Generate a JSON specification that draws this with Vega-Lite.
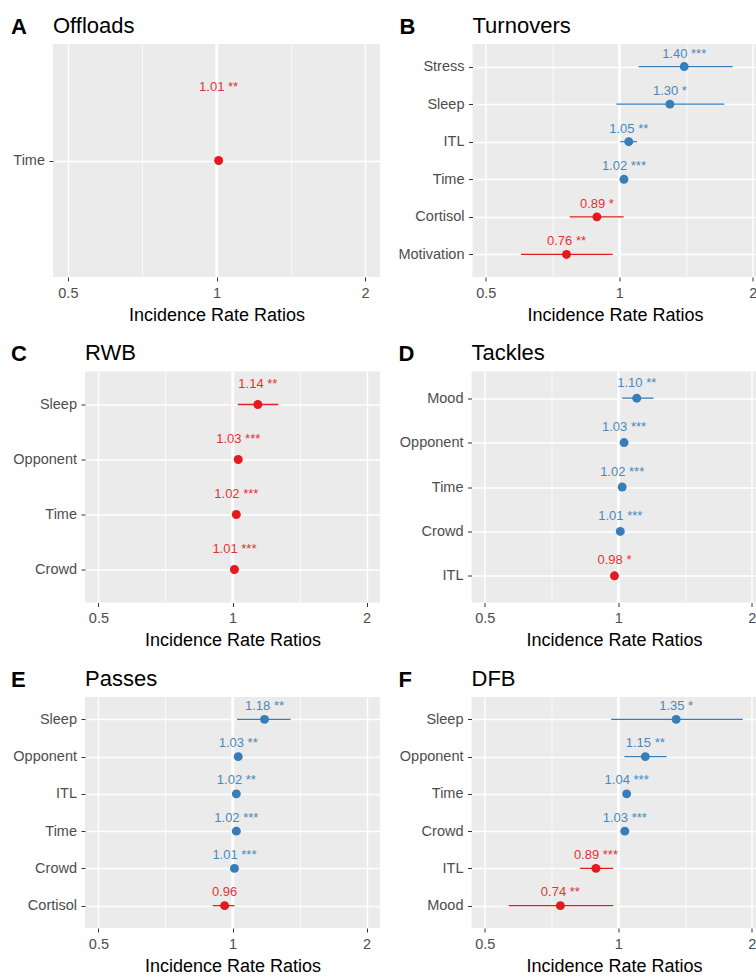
{
  "$schema": "https://vega.github.io/schema/vega-lite/v6.json",
  "background": "white",
  "padding": {"left": 9, "top": 14, "right": 0, "bottom": 0},
  "spacing": 17.5,
  "config": {
    "font": "Liberation Sans",
    "view": {"fill": "#EBEBEB", "stroke": null},
    "axis": {"domain": false, "grid": true, "gridColor": "#FFFFFF", "gridWidth": 1.4, "tickColor": "#333333", "tickSize": 4, "tickWidth": 1, "labelColor": "#4D4D4D", "labelFontSize": 14.5, "labelFont": "Liberation Sans", "titleFont": "Liberation Sans", "titleFontWeight": "normal", "titleColor": "#000000"},
    "axisX": {"labelPadding": 5, "titleFontSize": 18, "labelFlush": false, "labelOverlap": false},
    "axisY": {"labelPadding": 4.5},
    "title": {"anchor": "start", "frame": "group", "fontSize": 22, "fontWeight": "normal", "font": "Liberation Sans", "color": "#000000", "baseline": "alphabetic", "offset": -22.5}
  },
  "datasets": {
    "A": [
      {"term": "Time", "est": 1.01, "lo": 1.004, "hi": 1.016, "label": "1.01 **", "grp": "r"}
    ],
    "B": [
      {"term": "Stress", "est": 1.40, "lo": 1.105, "hi": 1.80, "label": "1.40 ***", "grp": "b"},
      {"term": "Sleep", "est": 1.30, "lo": 0.985, "hi": 1.725, "label": "1.30 *", "grp": "b"},
      {"term": "ITL", "est": 1.05, "lo": 1.005, "hi": 1.096, "label": "1.05 **", "grp": "b"},
      {"term": "Time", "est": 1.024, "lo": 1.014, "hi": 1.034, "label": "1.02 ***", "grp": "b"},
      {"term": "Cortisol", "est": 0.89, "lo": 0.773, "hi": 1.022, "label": "0.89 *", "grp": "r"},
      {"term": "Motivation", "est": 0.76, "lo": 0.60, "hi": 0.966, "label": "0.76 **", "grp": "r"}
    ],
    "C": [
      {"term": "Sleep", "est": 1.14, "lo": 1.028, "hi": 1.267, "label": "1.14 **", "grp": "r"},
      {"term": "Opponent", "est": 1.03, "lo": 1.02, "hi": 1.04, "label": "1.03 ***", "grp": "r"},
      {"term": "Time", "est": 1.02, "lo": 1.014, "hi": 1.026, "label": "1.02 ***", "grp": "r"},
      {"term": "Crowd", "est": 1.01, "lo": 1.005, "hi": 1.015, "label": "1.01 ***", "grp": "r"}
    ],
    "D": [
      {"term": "Mood", "est": 1.10, "lo": 1.02, "hi": 1.20, "label": "1.10 **", "grp": "b"},
      {"term": "Opponent", "est": 1.03, "lo": 1.02, "hi": 1.04, "label": "1.03 ***", "grp": "b"},
      {"term": "Time", "est": 1.02, "lo": 1.014, "hi": 1.026, "label": "1.02 ***", "grp": "b"},
      {"term": "Crowd", "est": 1.01, "lo": 1.005, "hi": 1.015, "label": "1.01 ***", "grp": "b"},
      {"term": "ITL", "est": 0.98, "lo": 0.965, "hi": 0.995, "label": "0.98 *", "grp": "r"}
    ],
    "E": [
      {"term": "Sleep", "est": 1.18, "lo": 1.024, "hi": 1.35, "label": "1.18 **", "grp": "b"},
      {"term": "Opponent", "est": 1.03, "lo": 1.01, "hi": 1.05, "label": "1.03 **", "grp": "b"},
      {"term": "ITL", "est": 1.02, "lo": 1.006, "hi": 1.034, "label": "1.02 **", "grp": "b"},
      {"term": "Time", "est": 1.02, "lo": 1.012, "hi": 1.028, "label": "1.02 ***", "grp": "b"},
      {"term": "Crowd", "est": 1.01, "lo": 1.005, "hi": 1.015, "label": "1.01 ***", "grp": "b"},
      {"term": "Cortisol", "est": 0.96, "lo": 0.903, "hi": 1.01, "label": "0.96", "grp": "r"}
    ],
    "F": [
      {"term": "Sleep", "est": 1.35, "lo": 0.963, "hi": 1.907, "label": "1.35 *", "grp": "b"},
      {"term": "Opponent", "est": 1.15, "lo": 1.032, "hi": 1.285, "label": "1.15 **", "grp": "b"},
      {"term": "Time", "est": 1.044, "lo": 1.034, "hi": 1.054, "label": "1.04 ***", "grp": "b"},
      {"term": "Crowd", "est": 1.034, "lo": 1.024, "hi": 1.044, "label": "1.03 ***", "grp": "b"},
      {"term": "ITL", "est": 0.89, "lo": 0.82, "hi": 0.974, "label": "0.89 ***", "grp": "r"},
      {"term": "Mood", "est": 0.74, "lo": 0.566, "hi": 0.974, "label": "0.74 **", "grp": "r"}
    ],
    "none": []
  },
  "vconcat": [
    {
      "spacing": 0,
      "hconcat": [
        {"width": 1, "height": 1, "view": {"fill": null, "stroke": null}, "data": {"name": "none"}, "mark": {"type": "point", "opacity": 0}},
        {
          "spacing": 17.5,
          "hconcat": [
            {
              "width": 327, "height": 233,
              "data": {"name": "A"},
              "title": {"text": "Offloads"},
              "layer": [
                {"data": {"values": [{"ref": 1}]}, "mark": {"type": "rule", "color": "#FFFFFF", "strokeWidth": 2.4},
                 "encoding": {"x": {"field": "ref", "type": "quantitative", "scale": {"type": "log", "domain": [0.4665, 2.1435], "nice": false, "zero": false},
                   "axis": {"values": [0.5, 0.7071, 1, 1.4142, 2], "labelExpr": "datum.value == 0.5 ? '0.5' : datum.value == 1 ? '1' : datum.value == 2 ? '2' : ''", "title": "Incidence Rate Ratios", "titleY": 43, "titleBaseline": "alphabetic",
                     "gridWidth": {"condition": {"test": "(datum.value > 0.6 && datum.value < 0.9) || (datum.value > 1.2 && datum.value < 1.8)", "value": 0.7}, "value": 1.4},
                     "tickOpacity": {"condition": {"test": "(datum.value > 0.6 && datum.value < 0.9) || (datum.value > 1.2 && datum.value < 1.8)", "value": 0}, "value": 1}}}}},
                {"mark": {"type": "rule", "strokeWidth": 1.3},
                 "encoding": {"y": {"field": "term", "type": "nominal", "sort": ["Time"], "scale": {"type": "point", "padding": 0.6},
                   "axis": {"title": "A", "titleAngle": 0, "titleAlign": "left", "titleBaseline": "alphabetic", "titleX": -42.5, "titleY": -11, "titleFontSize": 22, "titleFontWeight": "bold"}},
                  "x": {"field": "lo", "type": "quantitative", "scale": {"type": "log", "domain": [0.4665, 2.1435], "nice": false, "zero": false}}, "x2": {"field": "hi"},
                  "color": {"field": "grp", "type": "nominal", "scale": {"domain": ["r", "b"], "range": ["#E41A1C", "#377EB8"]}, "legend": null}}},
                {"mark": {"type": "circle", "size": 80, "opacity": 1},
                 "encoding": {"y": {"field": "term", "type": "nominal", "sort": ["Time"], "scale": {"type": "point", "padding": 0.6}},
                  "x": {"field": "est", "type": "quantitative", "scale": {"type": "log", "domain": [0.4665, 2.1435], "nice": false, "zero": false}},
                  "color": {"field": "grp", "type": "nominal", "scale": {"domain": ["r", "b"], "range": ["#E41A1C", "#377EB8"]}, "legend": null}}},
                {"mark": {"type": "text", "dy": -70, "fontSize": 13, "baseline": "alphabetic", "align": "center", "opacity": 0.9},
                 "encoding": {"y": {"field": "term", "type": "nominal", "sort": ["Time"], "scale": {"type": "point", "padding": 0.6}},
                  "x": {"field": "est", "type": "quantitative", "scale": {"type": "log", "domain": [0.4665, 2.1435], "nice": false, "zero": false}},
                  "text": {"field": "label"},
                  "color": {"field": "grp", "type": "nominal", "scale": {"domain": ["r", "b"], "range": ["#E41A1C", "#377EB8"]}, "legend": null}}}
              ]
            },
            {
              "width": 285, "height": 233,
              "data": {"name": "B"},
              "title": {"text": "Turnovers"},
              "layer": [
                {"data": {"values": [{"ref": 1}]}, "mark": {"type": "rule", "color": "#FFFFFF", "strokeWidth": 2.4},
                 "encoding": {"x": {"field": "ref", "type": "quantitative", "scale": {"type": "log", "domain": [0.4665, 2.0485], "nice": false, "zero": false},
                   "axis": {"values": [0.5, 0.7071, 1, 1.4142, 2], "labelExpr": "datum.value == 0.5 ? '0.5' : datum.value == 1 ? '1' : datum.value == 2 ? '2' : ''", "title": "Incidence Rate Ratios", "titleY": 43, "titleBaseline": "alphabetic",
                     "gridWidth": {"condition": {"test": "(datum.value > 0.6 && datum.value < 0.9) || (datum.value > 1.2 && datum.value < 1.8)", "value": 0.7}, "value": 1.4},
                     "tickOpacity": {"condition": {"test": "(datum.value > 0.6 && datum.value < 0.9) || (datum.value > 1.2 && datum.value < 1.8)", "value": 0}, "value": 1}}}}},
                {"mark": {"type": "rule", "strokeWidth": 1.3},
                 "encoding": {"y": {"field": "term", "type": "nominal", "sort": ["Stress", "Sleep", "ITL", "Time", "Cortisol", "Motivation"], "scale": {"type": "point", "padding": 0.6},
                   "axis": {"title": "B", "titleAngle": 0, "titleAlign": "left", "titleBaseline": "alphabetic", "titleX": -73.6, "titleY": -11, "titleFontSize": 22, "titleFontWeight": "bold"}},
                  "x": {"field": "lo", "type": "quantitative", "scale": {"type": "log", "domain": [0.4665, 2.0485], "nice": false, "zero": false}}, "x2": {"field": "hi"},
                  "color": {"field": "grp", "type": "nominal", "scale": {"domain": ["r", "b"], "range": ["#E41A1C", "#377EB8"]}, "legend": null}}},
                {"mark": {"type": "circle", "size": 80, "opacity": 1},
                 "encoding": {"y": {"field": "term", "type": "nominal", "sort": ["Stress", "Sleep", "ITL", "Time", "Cortisol", "Motivation"], "scale": {"type": "point", "padding": 0.6}},
                  "x": {"field": "est", "type": "quantitative", "scale": {"type": "log", "domain": [0.4665, 2.0485], "nice": false, "zero": false}},
                  "color": {"field": "grp", "type": "nominal", "scale": {"domain": ["r", "b"], "range": ["#E41A1C", "#377EB8"]}, "legend": null}}},
                {"mark": {"type": "text", "dy": -9, "fontSize": 13, "baseline": "alphabetic", "align": "center", "opacity": 0.9},
                 "encoding": {"y": {"field": "term", "type": "nominal", "sort": ["Stress", "Sleep", "ITL", "Time", "Cortisol", "Motivation"], "scale": {"type": "point", "padding": 0.6}},
                  "x": {"field": "est", "type": "quantitative", "scale": {"type": "log", "domain": [0.4665, 2.0485], "nice": false, "zero": false}},
                  "text": {"field": "label"},
                  "color": {"field": "grp", "type": "nominal", "scale": {"domain": ["r", "b"], "range": ["#E41A1C", "#377EB8"]}, "legend": null}}}
              ]
            }
          ]
        }
      ]
    },
    {
      "spacing": 0,
      "hconcat": [
        {"width": 1, "height": 1, "view": {"fill": null, "stroke": null}, "data": {"name": "none"}, "mark": {"type": "point", "opacity": 0}},
        {
          "spacing": 17.5,
          "hconcat": [
            {
              "width": 295, "height": 231,
              "data": {"name": "C"},
              "title": {"text": "RWB"},
              "layer": [
                {"data": {"values": [{"ref": 1}]}, "mark": {"type": "rule", "color": "#FFFFFF", "strokeWidth": 2.4},
                 "encoding": {"x": {"field": "ref", "type": "quantitative", "scale": {"type": "log", "domain": [0.4665, 2.1435], "nice": false, "zero": false},
                   "axis": {"values": [0.5, 0.7071, 1, 1.4142, 2], "labelExpr": "datum.value == 0.5 ? '0.5' : datum.value == 1 ? '1' : datum.value == 2 ? '2' : ''", "title": "Incidence Rate Ratios", "titleY": 43, "titleBaseline": "alphabetic",
                     "gridWidth": {"condition": {"test": "(datum.value > 0.6 && datum.value < 0.9) || (datum.value > 1.2 && datum.value < 1.8)", "value": 0.7}, "value": 1.4},
                     "tickOpacity": {"condition": {"test": "(datum.value > 0.6 && datum.value < 0.9) || (datum.value > 1.2 && datum.value < 1.8)", "value": 0}, "value": 1}}}}},
                {"mark": {"type": "rule", "strokeWidth": 1.3},
                 "encoding": {"y": {"field": "term", "type": "nominal", "sort": ["Sleep", "Opponent", "Time", "Crowd"], "scale": {"type": "point", "padding": 0.6},
                   "axis": {"title": "C", "titleAngle": 0, "titleAlign": "left", "titleBaseline": "alphabetic", "titleX": -74.6, "titleY": -11, "titleFontSize": 22, "titleFontWeight": "bold"}},
                  "x": {"field": "lo", "type": "quantitative", "scale": {"type": "log", "domain": [0.4665, 2.1435], "nice": false, "zero": false}}, "x2": {"field": "hi"},
                  "color": {"field": "grp", "type": "nominal", "scale": {"domain": ["r", "b"], "range": ["#E41A1C", "#377EB8"]}, "legend": null}}},
                {"mark": {"type": "circle", "size": 80, "opacity": 1},
                 "encoding": {"y": {"field": "term", "type": "nominal", "sort": ["Sleep", "Opponent", "Time", "Crowd"], "scale": {"type": "point", "padding": 0.6}},
                  "x": {"field": "est", "type": "quantitative", "scale": {"type": "log", "domain": [0.4665, 2.1435], "nice": false, "zero": false}},
                  "color": {"field": "grp", "type": "nominal", "scale": {"domain": ["r", "b"], "range": ["#E41A1C", "#377EB8"]}, "legend": null}}},
                {"mark": {"type": "text", "dy": -17, "fontSize": 13, "baseline": "alphabetic", "align": "center", "opacity": 0.9},
                 "encoding": {"y": {"field": "term", "type": "nominal", "sort": ["Sleep", "Opponent", "Time", "Crowd"], "scale": {"type": "point", "padding": 0.6}},
                  "x": {"field": "est", "type": "quantitative", "scale": {"type": "log", "domain": [0.4665, 2.1435], "nice": false, "zero": false}},
                  "text": {"field": "label"},
                  "color": {"field": "grp", "type": "nominal", "scale": {"domain": ["r", "b"], "range": ["#E41A1C", "#377EB8"]}, "legend": null}}}
              ]
            },
            {
              "width": 285, "height": 231,
              "data": {"name": "D"},
              "title": {"text": "Tackles"},
              "layer": [
                {"data": {"values": [{"ref": 1}]}, "mark": {"type": "rule", "color": "#FFFFFF", "strokeWidth": 2.4},
                 "encoding": {"x": {"field": "ref", "type": "quantitative", "scale": {"type": "log", "domain": [0.4665, 2.0485], "nice": false, "zero": false},
                   "axis": {"values": [0.5, 0.7071, 1, 1.4142, 2], "labelExpr": "datum.value == 0.5 ? '0.5' : datum.value == 1 ? '1' : datum.value == 2 ? '2' : ''", "title": "Incidence Rate Ratios", "titleY": 43, "titleBaseline": "alphabetic",
                     "gridWidth": {"condition": {"test": "(datum.value > 0.6 && datum.value < 0.9) || (datum.value > 1.2 && datum.value < 1.8)", "value": 0.7}, "value": 1.4},
                     "tickOpacity": {"condition": {"test": "(datum.value > 0.6 && datum.value < 0.9) || (datum.value > 1.2 && datum.value < 1.8)", "value": 0}, "value": 1}}}}},
                {"mark": {"type": "rule", "strokeWidth": 1.3},
                 "encoding": {"y": {"field": "term", "type": "nominal", "sort": ["Mood", "Opponent", "Time", "Crowd", "ITL"], "scale": {"type": "point", "padding": 0.6},
                   "axis": {"title": "D", "titleAngle": 0, "titleAlign": "left", "titleBaseline": "alphabetic", "titleX": -73.6, "titleY": -11, "titleFontSize": 22, "titleFontWeight": "bold"}},
                  "x": {"field": "lo", "type": "quantitative", "scale": {"type": "log", "domain": [0.4665, 2.0485], "nice": false, "zero": false}}, "x2": {"field": "hi"},
                  "color": {"field": "grp", "type": "nominal", "scale": {"domain": ["r", "b"], "range": ["#E41A1C", "#377EB8"]}, "legend": null}}},
                {"mark": {"type": "circle", "size": 80, "opacity": 1},
                 "encoding": {"y": {"field": "term", "type": "nominal", "sort": ["Mood", "Opponent", "Time", "Crowd", "ITL"], "scale": {"type": "point", "padding": 0.6}},
                  "x": {"field": "est", "type": "quantitative", "scale": {"type": "log", "domain": [0.4665, 2.0485], "nice": false, "zero": false}},
                  "color": {"field": "grp", "type": "nominal", "scale": {"domain": ["r", "b"], "range": ["#E41A1C", "#377EB8"]}, "legend": null}}},
                {"mark": {"type": "text", "dy": -11.5, "fontSize": 13, "baseline": "alphabetic", "align": "center", "opacity": 0.9},
                 "encoding": {"y": {"field": "term", "type": "nominal", "sort": ["Mood", "Opponent", "Time", "Crowd", "ITL"], "scale": {"type": "point", "padding": 0.6}},
                  "x": {"field": "est", "type": "quantitative", "scale": {"type": "log", "domain": [0.4665, 2.0485], "nice": false, "zero": false}},
                  "text": {"field": "label"},
                  "color": {"field": "grp", "type": "nominal", "scale": {"domain": ["r", "b"], "range": ["#E41A1C", "#377EB8"]}, "legend": null}}}
              ]
            }
          ]
        }
      ]
    },
    {
      "spacing": 0,
      "hconcat": [
        {"width": 1, "height": 1, "view": {"fill": null, "stroke": null}, "data": {"name": "none"}, "mark": {"type": "point", "opacity": 0}},
        {
          "spacing": 17.5,
          "hconcat": [
            {
              "width": 295, "height": 231,
              "data": {"name": "E"},
              "title": {"text": "Passes"},
              "layer": [
                {"data": {"values": [{"ref": 1}]}, "mark": {"type": "rule", "color": "#FFFFFF", "strokeWidth": 2.4},
                 "encoding": {"x": {"field": "ref", "type": "quantitative", "scale": {"type": "log", "domain": [0.4665, 2.1435], "nice": false, "zero": false},
                   "axis": {"values": [0.5, 0.7071, 1, 1.4142, 2], "labelExpr": "datum.value == 0.5 ? '0.5' : datum.value == 1 ? '1' : datum.value == 2 ? '2' : ''", "title": "Incidence Rate Ratios", "titleY": 43, "titleBaseline": "alphabetic",
                     "gridWidth": {"condition": {"test": "(datum.value > 0.6 && datum.value < 0.9) || (datum.value > 1.2 && datum.value < 1.8)", "value": 0.7}, "value": 1.4},
                     "tickOpacity": {"condition": {"test": "(datum.value > 0.6 && datum.value < 0.9) || (datum.value > 1.2 && datum.value < 1.8)", "value": 0}, "value": 1}}}}},
                {"mark": {"type": "rule", "strokeWidth": 1.3},
                 "encoding": {"y": {"field": "term", "type": "nominal", "sort": ["Sleep", "Opponent", "ITL", "Time", "Crowd", "Cortisol"], "scale": {"type": "point", "padding": 0.6},
                   "axis": {"title": "E", "titleAngle": 0, "titleAlign": "left", "titleBaseline": "alphabetic", "titleX": -74.6, "titleY": -11, "titleFontSize": 22, "titleFontWeight": "bold"}},
                  "x": {"field": "lo", "type": "quantitative", "scale": {"type": "log", "domain": [0.4665, 2.1435], "nice": false, "zero": false}}, "x2": {"field": "hi"},
                  "color": {"field": "grp", "type": "nominal", "scale": {"domain": ["r", "b"], "range": ["#E41A1C", "#377EB8"]}, "legend": null}}},
                {"mark": {"type": "circle", "size": 80, "opacity": 1},
                 "encoding": {"y": {"field": "term", "type": "nominal", "sort": ["Sleep", "Opponent", "ITL", "Time", "Crowd", "Cortisol"], "scale": {"type": "point", "padding": 0.6}},
                  "x": {"field": "est", "type": "quantitative", "scale": {"type": "log", "domain": [0.4665, 2.1435], "nice": false, "zero": false}},
                  "color": {"field": "grp", "type": "nominal", "scale": {"domain": ["r", "b"], "range": ["#E41A1C", "#377EB8"]}, "legend": null}}},
                {"mark": {"type": "text", "dy": -9.5, "fontSize": 13, "baseline": "alphabetic", "align": "center", "opacity": 0.9},
                 "encoding": {"y": {"field": "term", "type": "nominal", "sort": ["Sleep", "Opponent", "ITL", "Time", "Crowd", "Cortisol"], "scale": {"type": "point", "padding": 0.6}},
                  "x": {"field": "est", "type": "quantitative", "scale": {"type": "log", "domain": [0.4665, 2.1435], "nice": false, "zero": false}},
                  "text": {"field": "label"},
                  "color": {"field": "grp", "type": "nominal", "scale": {"domain": ["r", "b"], "range": ["#E41A1C", "#377EB8"]}, "legend": null}}}
              ]
            },
            {
              "width": 285, "height": 231,
              "data": {"name": "F"},
              "title": {"text": "DFB"},
              "layer": [
                {"data": {"values": [{"ref": 1}]}, "mark": {"type": "rule", "color": "#FFFFFF", "strokeWidth": 2.4},
                 "encoding": {"x": {"field": "ref", "type": "quantitative", "scale": {"type": "log", "domain": [0.4665, 2.0485], "nice": false, "zero": false},
                   "axis": {"values": [0.5, 0.7071, 1, 1.4142, 2], "labelExpr": "datum.value == 0.5 ? '0.5' : datum.value == 1 ? '1' : datum.value == 2 ? '2' : ''", "title": "Incidence Rate Ratios", "titleY": 43, "titleBaseline": "alphabetic",
                     "gridWidth": {"condition": {"test": "(datum.value > 0.6 && datum.value < 0.9) || (datum.value > 1.2 && datum.value < 1.8)", "value": 0.7}, "value": 1.4},
                     "tickOpacity": {"condition": {"test": "(datum.value > 0.6 && datum.value < 0.9) || (datum.value > 1.2 && datum.value < 1.8)", "value": 0}, "value": 1}}}}},
                {"mark": {"type": "rule", "strokeWidth": 1.3},
                 "encoding": {"y": {"field": "term", "type": "nominal", "sort": ["Sleep", "Opponent", "Time", "Crowd", "ITL", "Mood"], "scale": {"type": "point", "padding": 0.6},
                   "axis": {"title": "F", "titleAngle": 0, "titleAlign": "left", "titleBaseline": "alphabetic", "titleX": -73.6, "titleY": -11, "titleFontSize": 22, "titleFontWeight": "bold"}},
                  "x": {"field": "lo", "type": "quantitative", "scale": {"type": "log", "domain": [0.4665, 2.0485], "nice": false, "zero": false}}, "x2": {"field": "hi"},
                  "color": {"field": "grp", "type": "nominal", "scale": {"domain": ["r", "b"], "range": ["#E41A1C", "#377EB8"]}, "legend": null}}},
                {"mark": {"type": "circle", "size": 80, "opacity": 1},
                 "encoding": {"y": {"field": "term", "type": "nominal", "sort": ["Sleep", "Opponent", "Time", "Crowd", "ITL", "Mood"], "scale": {"type": "point", "padding": 0.6}},
                  "x": {"field": "est", "type": "quantitative", "scale": {"type": "log", "domain": [0.4665, 2.0485], "nice": false, "zero": false}},
                  "color": {"field": "grp", "type": "nominal", "scale": {"domain": ["r", "b"], "range": ["#E41A1C", "#377EB8"]}, "legend": null}}},
                {"mark": {"type": "text", "dy": -9.5, "fontSize": 13, "baseline": "alphabetic", "align": "center", "opacity": 0.9},
                 "encoding": {"y": {"field": "term", "type": "nominal", "sort": ["Sleep", "Opponent", "Time", "Crowd", "ITL", "Mood"], "scale": {"type": "point", "padding": 0.6}},
                  "x": {"field": "est", "type": "quantitative", "scale": {"type": "log", "domain": [0.4665, 2.0485], "nice": false, "zero": false}},
                  "text": {"field": "label"},
                  "color": {"field": "grp", "type": "nominal", "scale": {"domain": ["r", "b"], "range": ["#E41A1C", "#377EB8"]}, "legend": null}}}
              ]
            }
          ]
        }
      ]
    }
  ]
}
